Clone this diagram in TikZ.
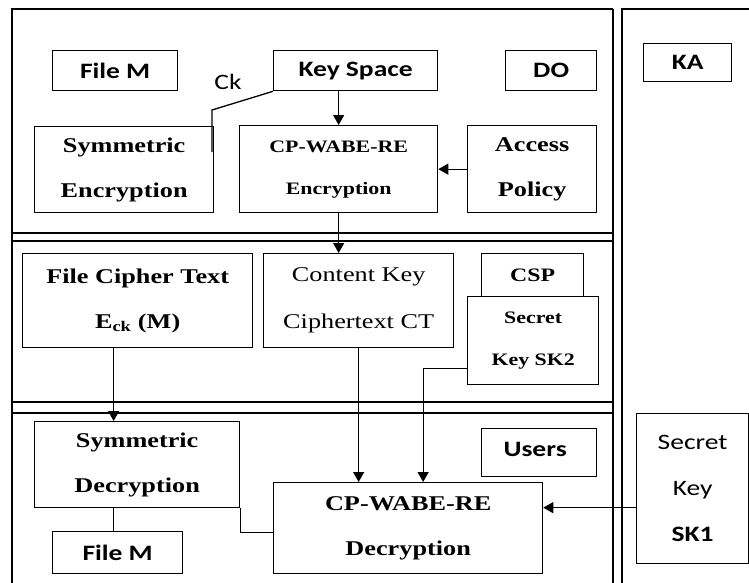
\documentclass[tikz,border=0pt]{standalone}
\usepackage{fontspec}
\setmainfont{Liberation Serif}[FakeStretch=1.25]
\newfontfamily\calib{Carlito}[FakeStretch=1.25]
\usetikzlibrary{arrows.meta}

\begin{document}
\begin{tikzpicture}[
x=1pt,
y=-1pt,
box/.style={
  draw,
  line width=1.3pt,
  inner sep=0pt,
  anchor=north west,
  align=center
  },
serifb/.style={
  font=\bfseries\fontsize{21}{45}\selectfont
  },
serifs/.style={
  font=\bfseries\fontsize{17.5}{42}\selectfont
  },
serifr/.style={
  font=\fontsize{21}{47}\selectfont
  },
sansb/.style={
  font=\calib\bfseries\fontsize{22}{46}\selectfont
  },
sansr/.style={
  font=\calib\fontsize{22}{46}\selectfont
  },
line/.style={
  line width=1.3pt
  },
>={Triangle[length=10pt,width=11pt]}
]
\useasboundingbox (0,0) rectangle (749,582);
\clip (0,0) rectangle (749,582);

\draw[line] (12,600) |- (613,9);
\draw[line width=2.2pt] (613,9) -- (613,600);
\foreach \yy in {233,241,402,413}
  \draw[line] (12,\yy) -- (613,\yy);
\draw[line] (622,600) |- (760,9);

\node[box,sansb,minimum width=125,minimum height=40] (filem) at (52,50) {File M};
\node[box,sansb,minimum width=164,minimum height=40] (keysp) at (273,50) {Key Space};
\node[box,sansb,minimum width=91,minimum height=40] (do) at (505,50) {DO};
\node[box,sansb,minimum width=88,minimum height=38] (ka) at (643,43) {KA};
\node[sansr] (ck) at (228,82) {Ck};
\node[box,serifb,minimum width=179,minimum height=86] (symenc) at (34,126) {Symmetric\\Encryption};
\node[box,serifs,minimum width=198,minimum height=87] (cpenc) at (239,125) {CP-WABE-RE\\Encryption};
\node[box,serifb,minimum width=129,minimum height=87] (accpol) at (467,125) {Access\\Policy};

\node[box,serifb,minimum width=230,minimum height=94] (fct) at (22,253) {File Cipher Text\\E\textsubscript{ck} (M)};
\node[box,serifr,minimum width=190,minimum height=94] (ckct) at (263,253) {Content Key\\Ciphertext CT};
\node[box,serifb,font=\bfseries\fontsize{19}{40}\selectfont,minimum width=102,minimum height=43] (csp) at (481,253) {CSP};
\node[box,serifs,minimum width=131,minimum height=88] (sktwo) at (467,296) {Secret\\Key SK2};

\node[box,serifb,minimum width=205,minimum height=86] (symdec) at (34,421) {Symmetric\\Decryption};
\node[box,sansb,minimum width=130,minimum height=42] (filemb) at (52,531) {File M};
\node[box,serifb,minimum width=269,minimum height=91] (cpdec) at (273,482) {CP-WABE-RE\\Decryption};
\node[box,sansb,minimum width=115,minimum height=48] (users) at (481,428) {Users\hspace{8pt}\rule[-6pt]{0pt}{6pt}};
\node[box,sansr,minimum width=112,minimum height=150] (skone) at (636,413) {Secret\\Key\\{\bfseries SK1}};

\coordinate (fctout) at ([xshift=-24pt]fct.south);
\coordinate (symout) at ([xshift=-24pt]symdec.south);
\coordinate (sktwoout) at ([yshift=-28pt]sktwo.west);
\coordinate (skoneout) at ([yshift=-19pt]skone.west);

\draw[line] (keysp.south west) -- (212,110) -- (212,152);
\draw[line,->] (keysp.south -| cpenc.north) -- (cpenc.north);
\draw[line,->] (accpol.west) -- (cpenc.east);
\draw[line,->] (cpenc.south) -- (cpenc.south |- ckct.north);
\draw[line,->] (fctout) -- (fctout |- symdec.north);
\draw[line,->] (ckct.south) -- (ckct.south |- cpdec.north);
\draw[line,->] (sktwoout) -| ([xshift=15pt]cpdec.north);
\draw[line] (symout) -- (symout |- filemb.north);
\draw[line] (symdec.south east) |- ([yshift=-4pt]cpdec.west);
\draw[line,->] (skoneout) -- (skoneout -| cpdec.east);

\end{tikzpicture}
\end{document}
